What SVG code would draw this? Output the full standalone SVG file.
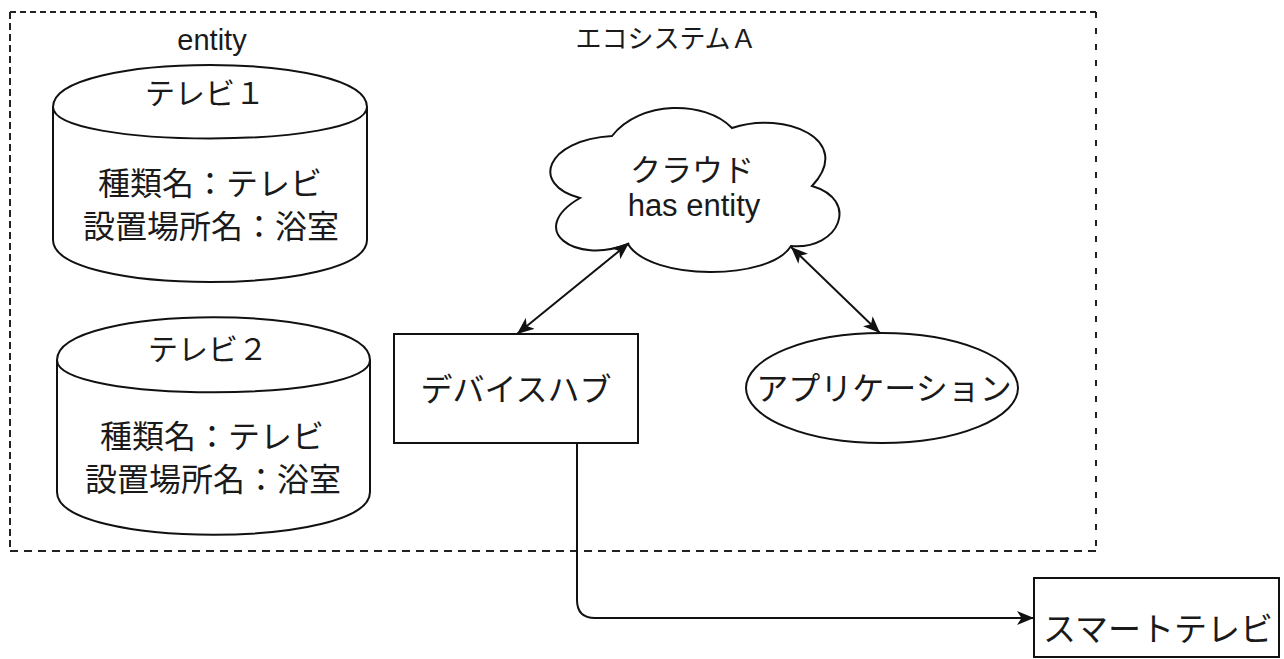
<svg xmlns="http://www.w3.org/2000/svg" width="1284" height="659" viewBox="0 0 1284 659">
<defs>
<style>
.shape{fill:#fff;stroke:#111;stroke-width:2}
.line{fill:none;stroke:#111;stroke-width:2}
.jp{font-family:"Noto Sans CJK JP","Liberation Sans",sans-serif;fill:#1a1a1a;text-anchor:middle}
.en{font-family:"Liberation Sans",Arial,sans-serif;fill:#1a1a1a;text-anchor:middle}
.frame{stroke:#222;stroke-width:2;fill:none}
</style>
<marker id="arr" viewBox="0 0 17 14" refX="17" refY="7" markerWidth="17" markerHeight="14" markerUnits="userSpaceOnUse" orient="auto-start-reverse">
<path d="M0,0 L17,7 L0,14 L4.5,7 Z" fill="#111"/>
</marker>
</defs>
<rect width="1284" height="659" fill="#fff"/>

<g id="ecosystem">
<line class="frame" x1="10" y1="12" x2="1096" y2="12" stroke-dasharray="6 4"/>
<line class="frame" x1="10" y1="12" x2="10" y2="551" stroke-dasharray="7 4"/>
<line class="frame" x1="10" y1="551" x2="1096" y2="551" stroke-dasharray="8 6"/>
<line class="frame" x1="1096" y1="12" x2="1096" y2="551" stroke-dasharray="6 10" stroke="#666"/>
<text class="en" x="212" y="50" font-size="29">entity</text>
<text class="jp" x="666" y="48" font-size="26">エコシステムＡ</text>
</g>

<g id="tv1">
<path class="shape" d="M53,107 C53,51 367,51 367,107 L367,240 C367,296 53,296 53,240 Z"/>
<path class="line" d="M53,107 C53,149 367,149 367,107"/>
<text class="jp" x="205" y="104" font-size="30">テレビ１</text>
<text class="jp" font-size="32"><tspan x="210" y="195">種類名：テレビ</tspan><tspan x="211" y="238">設置場所名：浴室</tspan></text>
</g>

<g id="tv2">
<path class="shape" d="M57,360 C57,303 370,303 370,360 L370,492 C370,549 57,549 57,492 Z"/>
<path class="line" d="M57,360 C57,403 370,403 370,360"/>
<text class="jp" x="208" y="360" font-size="30">テレビ２</text>
<text class="jp" font-size="32"><tspan x="212" y="448">種類名：テレビ</tspan><tspan x="213" y="491">設置場所名：浴室</tspan></text>
</g>

<g id="cloud">
<path class="shape" d="M612,136 C640,100 705,100 732,128 C785,110 855,140 812,186 C860,200 840,250 791,246 C770,281 650,281 628,244 C575,265 525,230 580,198 C530,185 545,140 612,136 Z"/>
<text class="jp" font-size="31"><tspan x="692" y="181">クラウド</tspan><tspan class="en" x="694" y="216" style="font-family:'Liberation Sans',Arial,sans-serif">has entity</tspan></text>
</g>

<g id="devicehub">
<rect class="shape" x="394" y="334" width="244" height="109"/>
<text class="jp" x="516" y="401" font-size="32">デバイスハブ</text>
</g>

<g id="application">
<ellipse class="shape" cx="882" cy="388" rx="136" ry="55"/>
<text class="jp" x="884" y="400" font-size="32">アプリケーション</text>
</g>

<g id="smarttv">
<rect class="shape" x="1034" y="578" width="245" height="79"/>
<text class="jp" x="1158" y="641" font-size="33">スマートテレビ</text>
</g>

<g id="connectors">
<line class="line" x1="629" y1="243" x2="517" y2="334" marker-start="url(#arr)" marker-end="url(#arr)"/>
<line class="line" x1="791" y1="247" x2="880" y2="333" marker-start="url(#arr)" marker-end="url(#arr)"/>
<path class="line" d="M577,443 L577,600 Q577,618 595,618 L1034,618" marker-end="url(#arr)"/>
</g>
</svg>
